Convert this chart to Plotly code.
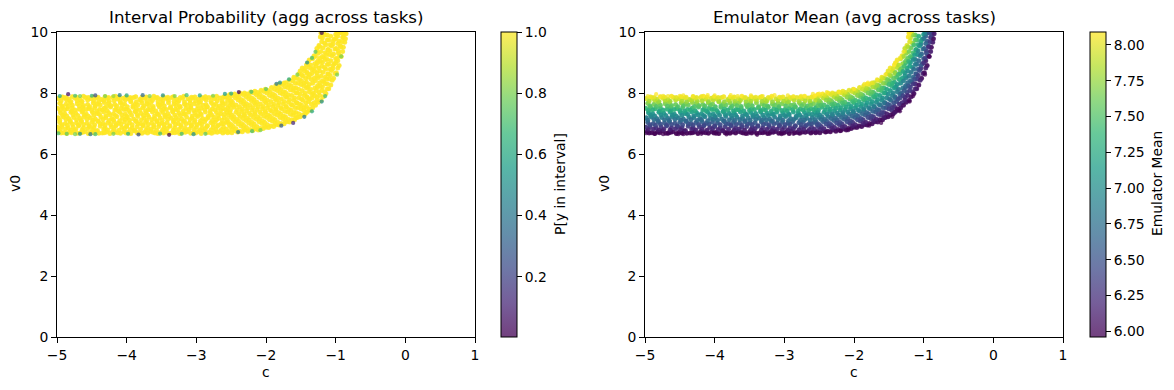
import plotly.graph_objects as go

W, H = 1174, 390
FONT = "DejaVu Sans"

c_core = [
-4.97,-4.90,-4.82,-4.75,-4.66,-4.60,-4.51,-4.44,-4.35,-4.29,-4.20,-4.13,-4.04,-3.98,-3.89,-3.82,-3.74,-3.66,-3.59,-3.50,-3.44,-3.35,-3.28,-3.20,-3.13,-3.04,-2.97,-2.90,-2.81,-2.74,-2.66,-2.59,
-4.99,-4.93,-4.84,-4.77,-4.69,-4.62,-4.53,-4.47,-4.38,-4.31,-4.22,-4.16,-4.07,-4.00,-3.92,-3.85,-3.76,-3.70,-3.61,-3.54,-3.46,-3.38,-3.31,-3.22,-3.16,-3.07,-3.00,-2.92,-2.85,-2.76,-2.70,-2.61,
-4.96,-4.88,-4.81,-4.72,-4.65,-4.57,-4.50,-4.41,-4.34,-4.27,-4.18,-4.12,-4.03,-3.96,-3.87,-3.80,-3.73,-3.64,-3.57,-3.49,-3.42,-3.33,-3.26,-3.19,-3.10,-3.03,-2.95,-2.88,-2.79,-2.73,-2.64,-2.57,
-4.98,-4.91,-4.83,-4.76,-4.67,-4.61,-4.52,-4.45,-4.37,-4.30,-4.21,-4.14,-4.06,-3.99,-3.90,-3.84,-3.75,-3.68,-3.60,-3.52,-3.45,-3.36,-3.29,-3.21,-3.14,-3.06,-2.98,-2.91,-2.83,-2.75,-2.68,-2.60,
-4.95,-4.89,-4.80,-4.73,-4.64,-4.58,-4.49,-4.42,-4.33,-4.26,-4.19,-4.10,-4.02,-3.95,-3.88,-3.79,-3.72,-3.63,-3.56,-3.48,-3.41,-3.34,-3.25,-3.18,-3.11,-3.02,-2.94,-2.87,-2.80,-2.71,-2.65,-2.56,
-4.99,-4.92,-4.85,-4.78,-4.68,-4.63,-4.54,-4.46,-4.39,-4.32,-4.23,-4.15,-4.08,-4.01,-3.91,-3.86,-3.77,-3.69,-3.62,-3.53,-3.47,-3.37,-3.30,-3.23,-3.15,-3.08,-2.99,-2.93,-2.84,-2.77,-2.69,-2.62,
-4.96,-4.87,-4.81,-4.71,-4.65,-4.56,-4.48,-4.42,-4.32,-4.26,-4.17,-4.09,-4.03,-3.94,-3.88,-3.78,-3.71,-3.65,-3.55,-3.49,-3.40,-3.32,-3.27,-3.17,-3.09,-3.03,-2.96,-2.86,-2.78,-2.72,-2.63,-2.58,
-4.98,-4.90,-4.83,-4.74,-4.67,-4.59,-4.51,-4.43,-4.36,-4.28,-4.20,-4.13,-4.05,-3.97,-3.90,-3.81,-3.74,-3.66,-3.58,-3.51,-3.43,-3.35,-3.28,-3.20,-3.12,-3.05,-2.97,-2.89,-2.82,-2.74,-2.66,-2.59,
-2.53,-2.51,-2.54,-2.50,-2.52,-2.55,-2.51,-2.53,-2.52,
-2.45,-2.47,-2.44,-2.46,-2.43,-2.46,-2.48,-2.44,-2.45,
-2.38,-2.36,-2.39,-2.37,-2.35,-2.38,-2.36,-2.39,-2.37,
-2.30,-2.32,-2.29,-2.31,-2.28,-2.30,-2.32,-2.29,-2.31,
-2.23,-2.21,-2.24,-2.22,-2.20,-2.23,-2.21,-2.24,-2.22,
-2.15,-2.17,-2.14,-2.16,-2.13,-2.15,-2.17,-2.14,-2.16,
-2.08,-2.06,-2.09,-2.07,-2.05,-2.08,-2.06,-2.09,-2.07,
-2.00,-2.02,-1.99,-2.01,-1.98,-2.00,-2.02,-1.99,-2.01,
-1.93,-1.91,-1.94,-1.92,-1.90,-1.93,-1.91,-1.94,-1.92,
-1.85,-1.87,-1.84,-1.86,-1.83,-1.85,-1.87,-1.84,-1.86,
-1.78,-1.76,-1.79,-1.77,-1.75,-1.78,-1.76,-1.79,-1.77,
-1.70,-1.72,-1.69,-1.71,-1.68,-1.70,-1.72,-1.69,-1.71,
-1.63,-1.61,-1.64,-1.62,-1.60,-1.63,-1.61,-1.64,-1.62,-1.60,
-1.55,-1.57,-1.54,-1.56,-1.53,-1.55,-1.57,-1.54,-1.56,-1.53,
-1.48,-1.46,-1.49,-1.47,-1.45,-1.48,-1.46,-1.49,-1.47,-1.45,-1.48,
-1.40,-1.42,-1.39,-1.41,-1.38,-1.40,-1.42,-1.39,-1.41,-1.38,-1.40,
-1.33,-1.31,-1.34,-1.32,-1.30,-1.33,-1.31,-1.34,-1.32,-1.30,-1.33,-1.31,
-1.25,-1.27,-1.24,-1.26,-1.23,-1.25,-1.27,-1.24,-1.26,-1.23,-1.25,-1.27,-1.24,
-1.18,-1.16,-1.19,-1.17,-1.15,-1.18,-1.16,-1.19,-1.17,-1.15,-1.18,-1.16,-1.19,-1.17,
-1.10,-1.12,-1.09,-1.11,-1.08,-1.10,-1.12,-1.09,-1.11,-1.08,-1.10,-1.12,
-1.03,-1.01,-1.04,-1.02,-1.00,-1.03,-1.01,-1.04,-1.02,-1.00,
-0.95,-0.97,-0.94,-0.96,-0.93,-0.95,-0.97,-0.94,
-0.89,-0.87,-0.90,-0.88,
]

v0_core = [
6.74,6.70,6.72,6.76,6.70,6.73,6.71,6.75,6.69,6.72,6.74,6.70,6.73,6.71,6.76,6.70,6.72,6.74,6.69,6.73,6.75,6.70,6.72,6.71,6.74,6.70,6.73,6.76,6.71,6.72,6.74,6.73,
6.88,6.90,6.85,6.89,6.92,6.86,6.90,6.87,6.91,6.85,6.89,6.92,6.87,6.90,6.86,6.89,6.92,6.85,6.88,6.90,6.87,6.91,6.86,6.89,6.85,6.92,6.88,6.86,6.90,6.87,6.91,6.88,
7.03,7.00,7.05,7.02,7.06,7.01,7.04,7.07,7.00,7.03,7.06,7.01,7.05,7.02,7.07,7.00,7.04,7.02,7.06,7.01,7.03,7.05,7.00,7.07,7.02,7.04,7.01,7.06,7.03,7.05,7.00,7.04,
7.19,7.21,7.16,7.20,7.17,7.22,7.18,7.15,7.21,7.19,7.16,7.22,7.17,7.20,7.15,7.23,7.18,7.21,7.16,7.19,7.22,7.17,7.20,7.15,7.21,7.18,7.23,7.16,7.19,7.21,7.17,7.20,
7.35,7.32,7.37,7.34,7.38,7.31,7.36,7.33,7.38,7.35,7.32,7.37,7.31,7.36,7.39,7.33,7.35,7.38,7.32,7.36,7.33,7.38,7.34,7.31,7.37,7.35,7.32,7.38,7.34,7.36,7.31,7.37,
7.50,7.53,7.48,7.51,7.47,7.53,7.49,7.52,7.46,7.51,7.54,7.48,7.50,7.47,7.53,7.49,7.52,7.46,7.50,7.54,7.48,7.51,7.47,7.53,7.49,7.52,7.46,7.50,7.54,7.48,7.51,7.49,
7.66,7.63,7.68,7.65,7.69,7.62,7.67,7.64,7.69,7.66,7.62,7.68,7.64,7.71,7.63,7.67,7.65,7.69,7.62,7.66,7.68,7.64,7.70,7.63,7.67,7.65,7.69,7.62,7.66,7.64,7.68,7.65,
7.82,7.84,7.80,7.83,7.79,7.85,7.81,7.84,7.79,7.82,7.85,7.80,7.83,7.81,7.85,7.79,7.83,7.81,7.84,7.80,7.82,7.85,7.79,7.83,7.81,7.84,7.80,7.82,7.85,7.81,7.84,7.86,
6.74,6.89,7.05,7.20,7.36,7.52,7.67,7.83,7.95,
6.76,6.90,7.06,7.22,7.37,7.53,7.69,7.84,7.97,
6.75,6.92,7.08,7.23,7.39,7.55,7.70,7.86,7.99,
6.79,6.94,7.10,7.26,7.42,7.57,7.73,7.88,8.00,
6.80,6.96,7.12,7.28,7.44,7.60,7.75,7.90,8.03,
6.82,6.98,7.14,7.30,7.46,7.62,7.78,7.94,8.06,
6.84,7.00,7.16,7.32,7.48,7.64,7.80,7.96,8.09,
6.88,7.04,7.20,7.36,7.52,7.68,7.84,8.00,8.12,
6.92,7.08,7.24,7.40,7.56,7.72,7.88,8.04,8.18,
6.96,7.12,7.28,7.44,7.60,7.76,7.92,8.08,8.24,
7.00,7.16,7.32,7.48,7.64,7.80,7.96,8.12,8.28,
7.06,7.22,7.38,7.54,7.70,7.86,8.02,8.18,8.34,
7.12,7.28,7.44,7.60,7.76,7.92,8.08,8.24,8.40,8.52,
7.20,7.36,7.52,7.68,7.84,8.00,8.16,8.32,8.48,8.62,
7.28,7.44,7.60,7.76,7.92,8.08,8.24,8.40,8.56,8.72,8.82,
7.40,7.56,7.72,7.88,8.04,8.20,8.36,8.52,8.68,8.84,8.98,
7.52,7.68,7.84,8.00,8.16,8.32,8.48,8.64,8.80,8.96,9.12,9.22,
7.70,7.86,8.02,8.18,8.34,8.50,8.66,8.82,8.98,9.14,9.30,9.46,9.56,
7.88,8.04,8.20,8.36,8.52,8.68,8.84,9.00,9.16,9.32,9.48,9.64,9.80,9.94,
8.14,8.30,8.46,8.62,8.78,8.94,9.10,9.26,9.42,9.58,9.74,9.90,
8.48,8.64,8.80,8.96,9.12,9.28,9.44,9.60,9.76,9.92,
8.90,9.06,9.22,9.38,9.54,9.70,9.86,9.98,
9.50,9.66,9.82,9.96,
]

mean_core = [
6.05,5.99,6.02,6.08,5.98,6.04,6.00,6.07,5.97,6.02,6.05,5.99,6.04,6.00,6.08,5.98,6.02,6.05,5.97,6.04,6.07,5.99,6.02,6.00,6.05,5.98,6.04,6.08,6.00,6.02,6.05,6.03,
6.30,6.33,6.24,6.31,6.36,6.26,6.33,6.28,6.35,6.24,6.31,6.36,6.28,6.33,6.26,6.31,6.36,6.24,6.30,6.33,6.28,6.35,6.26,6.31,6.24,6.36,6.30,6.26,6.33,6.28,6.35,6.30,
6.57,6.51,6.60,6.55,6.62,6.53,6.58,6.63,6.51,6.57,6.62,6.53,6.60,6.55,6.63,6.51,6.58,6.55,6.62,6.53,6.57,6.60,6.51,6.63,6.55,6.58,6.53,6.62,6.57,6.60,6.51,6.58,
6.85,6.88,6.79,6.86,6.81,6.90,6.83,6.77,6.88,6.85,6.79,6.90,6.81,6.86,6.77,6.91,6.83,6.88,6.79,6.85,6.90,6.81,6.86,6.77,6.88,6.83,6.91,6.79,6.85,6.88,6.81,6.86,
7.13,7.07,7.16,7.11,7.18,7.05,7.14,7.09,7.18,7.13,7.07,7.16,7.05,7.14,7.20,7.09,7.13,7.18,7.07,7.14,7.09,7.18,7.11,7.05,7.16,7.13,7.07,7.18,7.11,7.14,7.05,7.16,
7.40,7.46,7.37,7.42,7.35,7.46,7.39,7.44,7.33,7.42,7.48,7.37,7.40,7.35,7.46,7.39,7.44,7.33,7.40,7.48,7.37,7.42,7.35,7.46,7.39,7.44,7.33,7.40,7.48,7.37,7.42,7.39,
7.68,7.63,7.71,7.66,7.73,7.61,7.70,7.65,7.73,7.68,7.61,7.71,7.65,7.77,7.63,7.70,7.66,7.73,7.61,7.68,7.71,7.65,7.75,7.63,7.70,7.66,7.73,7.61,7.68,7.65,7.71,7.66,
7.96,7.99,7.92,7.98,7.90,8.01,7.94,7.99,7.90,7.96,8.01,7.92,7.98,7.94,8.01,7.90,7.98,7.94,7.99,7.92,7.96,8.01,7.90,7.98,7.94,7.99,7.92,7.96,8.01,7.94,7.99,8.03,
6.07,6.32,6.58,6.83,7.09,7.36,7.60,7.87,8.07,
6.08,6.31,6.58,6.84,7.09,7.35,7.62,7.87,8.08,
6.03,6.31,6.57,6.82,7.08,7.34,7.59,7.85,8.06,
6.08,6.32,6.58,6.84,7.10,7.34,7.60,7.84,8.04,
6.06,6.32,6.57,6.83,7.09,7.35,7.59,7.83,8.04,
6.06,6.32,6.57,6.83,7.08,7.34,7.60,7.85,8.04,
6.03,6.28,6.53,6.78,7.03,7.28,7.53,7.78,8.00,
6.05,6.30,6.56,6.81,7.06,7.32,7.57,7.82,8.01,
6.06,6.31,6.56,6.81,7.05,7.30,7.55,7.80,8.02,
6.06,6.30,6.55,6.79,7.03,7.28,7.52,7.76,8.01,
6.06,6.30,6.54,6.78,7.02,7.26,7.50,7.74,7.98,
6.06,6.30,6.53,6.77,7.01,7.24,7.48,7.72,7.95,
6.06,6.28,6.51,6.74,6.97,7.19,7.42,7.65,7.88,8.04,
6.06,6.28,6.50,6.72,6.94,7.16,7.38,7.60,7.82,8.01,
6.05,6.26,6.47,6.68,6.88,7.09,7.30,7.51,7.72,7.93,8.06,
6.06,6.26,6.47,6.67,6.87,7.07,7.27,7.47,7.68,7.88,8.05,
6.05,6.24,6.42,6.61,6.80,6.99,7.18,7.37,7.56,7.75,7.94,8.05,
6.05,6.22,6.39,6.56,6.72,6.89,7.06,7.23,7.40,7.56,7.73,7.90,8.00,
6.05,6.20,6.36,6.51,6.67,6.82,6.98,7.13,7.29,7.45,7.60,7.76,7.91,8.05,
6.05,6.19,6.32,6.46,6.60,6.73,6.87,7.00,7.14,7.28,7.41,7.55,
6.05,6.17,6.29,6.41,6.53,6.65,6.77,6.89,7.01,7.13,
6.03,6.13,6.23,6.33,6.43,6.53,6.63,6.70,
6.03,6.13,6.23,6.32,
]

p_core = [
1,1,1,1,1,1,1,1,1,1,1,1,1,1,1,1,1,1,1,1,1,1,1,1,1,1,1,1,1,1,1,1,
1,1,1,1,1,1,1,1,1,1,1,1,1,1,1,1,1,1,1,1,1,1,1,1,1,1,1,1,1,1,1,1,
1,1,1,1,1,1,1,1,1,1,1,1,1,1,1,1,1,1,1,1,1,1,1,1,1,1,1,1,1,1,1,1,
1,1,1,1,1,1,1,1,1,1,1,1,1,1,1,1,1,1,1,1,1,1,1,1,1,1,1,1,1,1,1,1,
1,1,1,1,1,1,1,1,1,1,1,1,1,1,1,1,1,1,1,1,1,1,1,1,1,1,1,1,1,1,1,1,
1,1,1,1,1,1,1,1,1,1,1,1,1,1,1,1,1,1,1,1,1,1,1,1,1,1,1,1,1,1,1,1,
1,1,1,1,1,1,1,1,1,1,1,1,1,1,1,1,1,1,1,1,1,1,1,1,1,1,1,1,1,1,1,1,
1,1,1,1,1,1,1,1,1,1,1,1,1,1,1,1,1,1,1,1,1,1,1,1,1,1,1,1,1,1,1,1,
1,1,1,1,1,1,1,1,1,1,1,1,1,1,1,1,1,1,1,1,1,1,1,1,1,1,1,1,1,1,1,1,1,1,1,1,1,1,1,1,
1,1,1,1,1,1,1,1,1,1,1,1,1,1,1,1,1,1,1,1,1,1,1,1,1,1,1,1,1,1,1,1,1,1,1,1,1,1,1,1,
1,1,1,1,1,1,1,1,1,1,1,1,1,1,1,1,1,1,1,1,1,1,1,1,1,1,1,1,1,1,1,1,1,1,1,1,1,1,1,1,
1,1,1,1,1,1,1,1,1,1,1,1,1,1,1,1,1,1,1,1,1,1,1,1,1,1,1,1,1,1,1,1,1,1,1,1,1,1,1,1,
1,1,1,1,1,1,1,1,1,1,1,1,1,1,1,1,1,1,1,1,1,1,1,1,1,1,1,1,1,1,1,1,1,1,1,1,1,1,1,1,
1,1,1,1,1,1,1,1,1,1,1,1,1,1,1,1,1,1,1,1,1,1,1,
]

c_fill = [
-4.94,-4.86,-4.79,-4.70,-4.63,-4.55,-4.47,-4.40,-4.32,-4.24,-4.17,-4.09,-4.01,-3.94,-3.85,-3.78,-3.70,-3.62,-3.55,-3.47,-3.40,-3.31,-3.24,-3.16,-3.08,-3.01,-2.93,-2.85,-2.78,-2.70,-2.62,-2.55,
-4.95,-4.88,-4.80,-4.73,-4.64,-4.56,-4.49,-4.42,-4.33,-4.27,-4.18,-4.11,-4.03,-3.95,-3.88,-3.80,-3.72,-3.65,-3.57,-3.48,-3.42,-3.33,-3.25,-3.18,-3.10,-3.03,-2.95,-2.87,-2.79,-2.72,-2.64,-2.57,
-4.93,-4.85,-4.78,-4.69,-4.62,-4.54,-4.46,-4.38,-4.31,-4.23,-4.15,-4.08,-4.00,-3.92,-3.84,-3.77,-3.69,-3.61,-3.53,-3.46,-3.38,-3.30,-3.22,-3.15,-3.07,-2.99,-2.92,-2.84,-2.76,-2.68,-2.61,-2.53,
-4.96,-4.87,-4.81,-4.72,-4.65,-4.57,-4.48,-4.41,-4.34,-4.25,-4.19,-4.10,-4.02,-3.96,-3.86,-3.79,-3.71,-3.64,-3.56,-3.49,-3.41,-3.32,-3.26,-3.17,-3.09,-3.02,-2.94,-2.86,-2.77,-2.71,-2.63,-2.56,
-4.92,-4.86,-4.77,-4.70,-4.61,-4.55,-4.47,-4.39,-4.30,-4.24,-4.16,-4.07,-4.00,-3.93,-3.85,-3.76,-3.70,-3.60,-3.54,-3.45,-3.39,-3.31,-3.23,-3.16,-3.06,-3.00,-2.93,-2.83,-2.78,-2.69,-2.60,-2.54,
-4.95,-4.89,-4.79,-4.74,-4.63,-4.58,-4.50,-4.43,-4.35,-4.28,-4.17,-4.12,-4.04,-3.97,-3.87,-3.81,-3.73,-3.66,-3.58,-3.50,-3.43,-3.34,-3.27,-3.19,-3.11,-3.04,-2.96,-2.88,-2.80,-2.73,-2.65,-2.58,
-4.93,-4.84,-4.78,-4.68,-4.62,-4.53,-4.45,-4.38,-4.29,-4.23,-4.14,-4.06,-3.99,-3.91,-3.84,-3.75,-3.68,-3.62,-3.52,-3.46,-3.37,-3.29,-3.24,-3.14,-3.08,-2.98,-2.91,-2.85,-2.75,-2.67,-2.62,-2.52,
-4.94,-4.86,-4.80,-4.71,-4.64,-4.56,-4.47,-4.40,-4.33,-4.25,-4.18,-4.09,-4.02,-3.94,-3.86,-3.79,-3.71,-3.63,-3.55,-3.48,-3.40,-3.32,-3.25,-3.17,-3.09,-3.01,-2.94,-2.86,-2.79,-2.70,-2.63,-2.55,
-4.92,-4.87,-4.78,-4.72,-4.62,-4.55,-4.48,-4.41,-4.31,-4.26,-4.16,-4.11,-4.01,-3.95,-3.87,-3.78,-3.72,-3.61,-3.56,-3.47,-3.41,-3.33,-3.23,-3.18,-3.07,-3.02,-2.92,-2.87,-2.77,-2.71,-2.61,-2.56,
-2.49,-2.48,-2.50,-2.47,-2.49,-2.51,-2.48,-2.50,-2.49,
-2.41,-2.43,-2.40,-2.42,-2.39,-2.41,-2.43,-2.40,-2.42,
-2.34,-2.32,-2.35,-2.33,-2.31,-2.34,-2.32,-2.35,-2.33,
-2.26,-2.28,-2.25,-2.27,-2.24,-2.26,-2.28,-2.25,-2.27,
-2.19,-2.17,-2.20,-2.18,-2.16,-2.19,-2.17,-2.20,-2.18,
-2.11,-2.13,-2.10,-2.12,-2.09,-2.11,-2.13,-2.10,-2.12,
-2.04,-2.02,-2.05,-2.03,-2.01,-2.04,-2.02,-2.05,-2.03,
-1.96,-1.98,-1.95,-1.97,-1.94,-1.96,-1.98,-1.95,-1.97,
-1.89,-1.87,-1.90,-1.88,-1.86,-1.89,-1.87,-1.90,-1.88,
-1.81,-1.83,-1.80,-1.82,-1.79,-1.81,-1.83,-1.80,-1.82,-1.81,
-1.74,-1.72,-1.75,-1.73,-1.71,-1.74,-1.72,-1.75,-1.73,-1.74,
-1.66,-1.68,-1.65,-1.67,-1.64,-1.66,-1.68,-1.65,-1.67,-1.66,
-1.59,-1.57,-1.60,-1.58,-1.56,-1.59,-1.57,-1.60,-1.58,-1.59,
-1.51,-1.53,-1.50,-1.52,-1.49,-1.51,-1.53,-1.50,-1.52,-1.49,-1.51,
-1.44,-1.42,-1.45,-1.43,-1.41,-1.44,-1.42,-1.45,-1.43,-1.41,-1.44,-1.42,
-1.36,-1.38,-1.35,-1.37,-1.34,-1.36,-1.38,-1.35,-1.37,-1.34,-1.36,-1.38,
-1.29,-1.27,-1.30,-1.28,-1.26,-1.29,-1.27,-1.30,-1.28,-1.26,-1.29,-1.27,
-1.21,-1.23,-1.20,-1.22,-1.19,-1.21,-1.23,-1.20,-1.22,-1.19,-1.21,-1.23,-1.20,-1.22,-1.21,
-1.14,-1.12,-1.15,-1.13,-1.11,-1.14,-1.12,-1.15,-1.13,-1.11,-1.14,-1.12,-1.15,
-1.07,-1.05,-1.08,-1.06,-1.04,-1.07,-1.05,-1.08,-1.06,-1.04,-1.07,
-0.99,-0.97,-1.00,-0.98,-0.96,-0.99,-0.97,-1.00,-0.98,
-0.92,-0.90,-0.93,-0.91,-0.89,-0.92,
-0.86,-0.85,
]

v0_fill = [
6.69,6.67,6.70,6.68,6.71,6.67,6.69,6.68,6.70,6.67,6.71,6.68,6.69,6.67,6.70,6.68,6.69,6.71,6.67,6.69,6.68,6.70,6.67,6.71,6.68,6.69,6.67,6.70,6.68,6.71,6.69,6.70,
6.80,6.82,6.78,6.81,6.79,6.83,6.80,6.77,6.82,6.79,6.81,6.78,6.83,6.80,6.77,6.81,6.79,6.82,6.78,6.80,6.83,6.79,6.81,6.77,6.82,6.80,6.78,6.83,6.79,6.81,6.80,6.82,
6.96,6.94,6.98,6.95,6.97,6.93,6.96,6.99,6.94,6.97,6.95,6.98,6.93,6.96,6.99,6.95,6.97,6.94,6.98,6.96,6.93,6.97,6.95,6.99,6.94,6.96,6.98,6.93,6.97,6.95,6.99,6.96,
7.11,7.13,7.09,7.12,7.10,7.14,7.11,7.08,7.13,7.10,7.12,7.09,7.14,7.11,7.08,7.12,7.10,7.13,7.09,7.11,7.14,7.10,7.12,7.08,7.13,7.11,7.09,7.14,7.10,7.12,7.11,7.13,
7.27,7.25,7.29,7.26,7.28,7.24,7.27,7.30,7.25,7.28,7.26,7.29,7.24,7.27,7.30,7.26,7.28,7.25,7.29,7.27,7.24,7.28,7.26,7.30,7.25,7.27,7.29,7.24,7.28,7.26,7.30,7.27,
7.43,7.45,7.41,7.44,7.42,7.46,7.43,7.40,7.45,7.42,7.44,7.41,7.46,7.43,7.40,7.44,7.42,7.45,7.41,7.43,7.46,7.42,7.44,7.40,7.45,7.43,7.41,7.46,7.42,7.44,7.43,7.45,
7.58,7.56,7.60,7.57,7.59,7.55,7.58,7.61,7.56,7.59,7.57,7.60,7.55,7.58,7.61,7.57,7.59,7.56,7.60,7.58,7.55,7.59,7.57,7.61,7.56,7.58,7.60,7.55,7.59,7.57,7.61,7.58,
7.74,7.76,7.72,7.75,7.73,7.77,7.74,7.71,7.76,7.73,7.75,7.72,7.77,7.74,7.71,7.75,7.73,7.76,7.72,7.74,7.77,7.73,7.75,7.71,7.76,7.74,7.72,7.77,7.73,7.75,7.74,7.76,
7.87,7.85,7.88,7.86,7.89,7.85,7.87,7.86,7.88,7.85,7.89,7.86,7.87,7.85,7.88,7.86,7.87,7.89,7.85,7.87,7.86,7.88,7.85,7.89,7.86,7.87,7.85,7.88,7.86,7.89,7.87,7.90,
6.70,6.81,6.97,7.13,7.28,7.44,7.60,7.75,7.91,
6.72,6.83,6.98,7.14,7.30,7.45,7.61,7.77,7.92,
6.73,6.84,7.00,7.16,7.31,7.47,7.63,7.78,7.95,
6.75,6.87,7.02,7.18,7.34,7.50,7.65,7.81,7.97,
6.77,6.88,7.04,7.20,7.36,7.52,7.68,7.83,8.00,
6.79,6.90,7.06,7.22,7.38,7.54,7.70,7.86,8.02,
6.84,6.92,7.08,7.24,7.40,7.56,7.72,7.88,8.05,
6.87,6.96,7.12,7.28,7.44,7.60,7.76,7.92,8.08,
6.90,7.00,7.16,7.32,7.48,7.64,7.80,7.96,8.12,
6.95,7.04,7.20,7.36,7.52,7.68,7.84,8.00,8.16,8.29,
6.99,7.08,7.24,7.40,7.56,7.72,7.88,8.04,8.20,8.33,
7.05,7.14,7.30,7.46,7.62,7.78,7.94,8.10,8.26,8.42,
7.12,7.20,7.36,7.52,7.68,7.84,8.00,8.16,8.32,8.48,
7.22,7.32,7.48,7.64,7.80,7.96,8.12,8.28,8.44,8.60,8.72,
7.31,7.36,7.52,7.68,7.84,8.00,8.16,8.32,8.48,8.64,8.80,8.92,
7.44,7.48,7.64,7.80,7.96,8.12,8.28,8.44,8.60,8.76,8.92,9.08,
7.60,7.76,7.92,8.08,8.24,8.40,8.56,8.72,8.88,9.04,9.20,9.36,
7.76,7.92,8.08,8.24,8.40,8.56,8.72,8.88,9.04,9.20,9.36,9.52,9.68,9.84,9.96,
7.98,8.14,8.30,8.46,8.62,8.78,8.94,9.10,9.26,9.42,9.58,9.74,9.90,
8.26,8.42,8.58,8.74,8.90,9.06,9.22,9.38,9.54,9.70,9.86,
8.66,8.82,8.98,9.14,9.30,9.46,9.62,9.78,9.94,
9.20,9.36,9.52,9.68,9.84,9.97,
9.78,9.94,
]

mean_fill = [
5.98,5.96,5.99,5.97,6.01,5.96,5.98,5.97,5.99,5.96,6.01,5.97,5.98,5.96,5.99,5.97,5.98,6.01,5.96,5.98,5.97,5.99,5.96,6.01,5.97,5.98,5.96,5.99,5.97,6.01,5.98,5.99,
6.17,6.20,6.13,6.18,6.15,6.22,6.17,6.12,6.20,6.15,6.18,6.13,6.22,6.17,6.12,6.18,6.15,6.20,6.13,6.17,6.22,6.15,6.18,6.12,6.20,6.17,6.13,6.22,6.15,6.18,6.17,6.20,
6.44,6.41,6.48,6.43,6.46,6.39,6.44,6.50,6.41,6.46,6.43,6.48,6.39,6.44,6.50,6.43,6.46,6.41,6.48,6.44,6.39,6.46,6.43,6.50,6.41,6.44,6.48,6.39,6.46,6.43,6.50,6.44,
6.71,6.74,6.67,6.72,6.69,6.76,6.71,6.65,6.74,6.69,6.72,6.67,6.76,6.71,6.65,6.72,6.69,6.74,6.67,6.71,6.76,6.69,6.72,6.65,6.74,6.71,6.67,6.76,6.69,6.72,6.71,6.74,
6.99,6.95,7.02,6.97,7.00,6.93,6.99,7.04,6.95,7.00,6.97,7.02,6.93,6.99,7.04,6.97,7.00,6.95,7.02,6.99,6.93,7.00,6.97,7.04,6.95,6.99,7.02,6.93,7.00,6.97,7.04,6.99,
7.27,7.30,7.23,7.28,7.25,7.32,7.27,7.21,7.30,7.25,7.28,7.23,7.32,7.27,7.21,7.28,7.25,7.30,7.23,7.27,7.32,7.25,7.28,7.21,7.30,7.27,7.23,7.32,7.25,7.28,7.27,7.30,
7.53,7.50,7.57,7.51,7.55,7.48,7.53,7.59,7.50,7.55,7.51,7.57,7.48,7.53,7.59,7.51,7.55,7.50,7.57,7.53,7.48,7.55,7.51,7.59,7.50,7.53,7.57,7.48,7.55,7.51,7.59,7.53,
7.82,7.85,7.78,7.83,7.80,7.87,7.82,7.76,7.85,7.80,7.83,7.78,7.87,7.82,7.76,7.83,7.80,7.85,7.78,7.82,7.87,7.80,7.83,7.76,7.85,7.82,7.78,7.87,7.80,7.83,7.82,7.85,
8.04,8.01,8.06,8.03,8.08,8.01,8.04,8.03,8.06,8.01,8.08,8.03,8.04,8.01,8.06,8.03,8.04,8.08,8.01,8.04,8.03,8.06,8.01,8.08,8.03,8.04,8.01,8.06,8.03,8.08,8.04,8.09,
6.00,6.20,6.45,6.71,6.96,7.22,7.48,7.74,8.00,
6.00,6.20,6.45,6.70,6.96,7.21,7.47,7.73,7.98,
5.99,6.17,6.43,6.69,6.94,7.20,7.46,7.71,7.99,
6.00,6.20,6.44,6.70,6.96,7.22,7.46,7.72,7.98,
6.00,6.18,6.44,6.70,6.95,7.21,7.47,7.71,7.99,
6.00,6.18,6.44,6.70,6.95,7.21,7.47,7.72,7.98,
6.02,6.15,6.41,6.66,6.91,7.16,7.42,7.67,7.94,
6.03,6.17,6.42,6.67,6.93,7.18,7.44,7.69,7.94,
6.03,6.18,6.43,6.68,6.93,7.18,7.43,7.67,7.92,
6.03,6.16,6.41,6.65,6.89,7.13,7.38,7.62,7.86,8.05,
6.03,6.15,6.39,6.63,6.87,7.11,7.35,7.58,7.82,8.02,
6.03,6.16,6.39,6.62,6.85,7.08,7.31,7.54,7.77,8.00,
6.02,6.13,6.36,6.58,6.81,7.03,7.26,7.49,7.71,7.94,
6.02,6.14,6.36,6.57,6.78,7.00,7.21,7.42,7.63,7.85,8.01,
6.02,6.09,6.30,6.51,6.72,6.93,7.14,7.35,7.56,7.77,7.98,8.08,
6.02,6.05,6.25,6.45,6.65,6.85,7.05,7.25,7.45,7.65,7.85,8.05,
6.03,6.20,6.38,6.55,6.73,6.90,7.08,7.25,7.43,7.60,7.78,7.95,
6.03,6.19,6.35,6.52,6.68,6.84,7.00,7.17,7.33,7.49,7.65,7.81,7.98,8.07,8.08,
6.03,6.17,6.31,6.45,6.59,6.73,6.87,7.01,7.15,7.29,7.43,7.57,7.71,
6.04,6.17,6.30,6.43,6.56,6.69,6.82,6.94,7.07,7.20,7.33,
6.03,6.14,6.25,6.36,6.47,6.58,6.69,6.80,6.91,
6.03,6.13,6.22,6.32,6.41,6.49,
6.03,6.12,
]

p_fill = [
1,1,1,1,1,1,1,1,1,1,1,1,1,1,1,1,1,1,1,1,1,1,1,1,1,1,1,1,1,1,1,1,
1,1,1,1,1,1,1,1,1,1,1,1,1,1,1,1,1,1,1,1,1,1,1,1,1,1,1,1,1,1,1,1,
1,1,1,1,1,1,1,1,1,1,1,1,1,1,1,1,1,1,1,1,1,1,1,1,1,1,1,1,1,1,1,1,
1,1,1,1,1,1,1,1,1,1,1,1,1,1,1,1,1,1,1,1,1,1,1,1,1,1,1,1,1,1,1,1,
1,1,1,1,1,1,1,1,1,1,1,1,1,1,1,1,1,1,1,1,1,1,1,1,1,1,1,1,1,1,1,1,
1,1,1,1,1,1,1,1,1,1,1,1,1,1,1,1,1,1,1,1,1,1,1,1,1,1,1,1,1,1,1,1,
1,1,1,1,1,1,1,1,1,1,1,1,1,1,1,1,1,1,1,1,1,1,1,1,1,1,1,1,1,1,1,1,
1,1,1,1,1,1,1,1,1,1,1,1,1,1,1,1,1,1,1,1,1,1,1,1,1,1,1,1,1,1,1,1,
1,1,1,1,1,1,1,1,1,1,1,1,1,1,1,1,1,1,1,1,1,1,1,1,1,1,1,1,1,1,1,1,
1,1,1,1,1,1,1,1,1,1,1,1,1,1,1,1,1,1,1,1,1,1,1,1,1,1,1,1,1,1,1,1,1,1,1,1,1,1,1,1,
1,1,1,1,1,1,1,1,1,1,1,1,1,1,1,1,1,1,1,1,1,1,1,1,1,1,1,1,1,1,1,1,1,1,1,1,1,1,1,1,
1,1,1,1,1,1,1,1,1,1,1,1,1,1,1,1,1,1,1,1,1,1,1,1,1,1,1,1,1,1,1,1,1,1,1,1,1,1,1,1,
1,1,1,1,1,1,1,1,1,1,1,1,1,1,1,1,1,1,1,1,1,1,1,1,1,1,1,1,1,1,1,1,1,1,1,1,1,1,1,1,
1,1,1,1,1,1,1,1,1,1,1,1,1,1,1,1,1,1,1,1,1,1,1,1,1,1,1,1,1,1,1,1,1,1,1,1,1,1,1,1,
1,1,1,1,1,1,1,1,1,1,1,1,1,1,1,1,1,1,1,1,1,1,1,1,
]

c_edge = [-4.96,-4.84,-4.74,-4.67,-4.50,-4.45,-4.31,-4.19,-4.10,-4.00,-3.77,-3.67,-3.48,-3.31,-3.14,-2.95,-2.76,-2.59,-2.50,-2.39,-2.21,-2.00,-1.85,-1.80,-1.67,-1.55,-1.41,-1.34,-1.29,-1.20,
          -4.98,-4.86,-4.74,-4.67,-4.52,-4.45,-4.19,-3.98,-3.83,-3.52,-3.39,-3.21,-3.04,-2.87,-2.40,-2.20,-2.08,-1.78,-1.61,-1.45,-1.34,-1.20,-1.15,-0.98,-0.92]
v0_edge = [7.90,7.96,7.91,7.90,7.91,7.92,7.90,7.90,7.93,7.92,7.93,7.90,7.92,7.90,7.93,7.92,7.91,7.97,7.98,8.03,8.04,8.13,8.30,8.34,8.45,8.60,9.00,9.15,9.35,9.97,
           6.68,6.66,6.65,6.66,6.65,6.65,6.66,6.66,6.64,6.67,6.63,6.66,6.65,6.66,6.72,6.75,6.78,6.93,7.02,7.22,7.40,7.72,7.90,8.60,9.20]
p_edge = [0.60,0.05,0.70,0.80,0.65,0.25,0.80,0.85,0.45,0.60,0.35,0.80,0.50,0.80,0.70,0.60,0.80,0.55,0.60,0.02,0.70,0.75,0.40,0.50,0.60,0.80,0.50,0.70,0.75,0.05,
          0.70,0.75,0.80,0.50,0.40,0.70,0.80,0.65,0.25,0.70,0.03,0.70,0.50,0.75,0.40,0.70,0.80,0.30,0.12,0.40,0.60,0.50,0.70,0.80,0.80]
mean_edge = [8.05,8.09,8.06,8.05,8.06,8.07,8.05,8.05,8.08,8.07,8.08,8.05,8.07,8.05,8.08,8.07,8.06,8.08,8.09,8.07,8.08,8.09,8.07,8.08,8.06,8.07,8.08,8.06,8.05,8.07,
             5.99,5.97,5.96,5.97,5.96,5.96,5.97,5.97,5.96,5.98,5.96,5.97,5.96,5.97,5.98,5.97,5.98,5.97,5.96,5.97,5.98,5.97,5.98,5.98,5.99]

x_ticks = [-5, -4, -3, -2, -1, 0, 1]
y_ticks = [0, 2, 4, 6, 8, 10]
p_ticks = [0.2, 0.4, 0.6, 0.8, 1.0]
mean_ticks = [6.00, 6.25, 6.50, 6.75, 7.00, 7.25, 7.50, 7.75, 8.00]

assert len(c_core) == len(v0_core) == len(mean_core) == len(p_core), (
    len(c_core), len(v0_core), len(mean_core), len(p_core))
assert len(c_fill) == len(v0_fill) == len(mean_fill) == len(p_fill), (
    len(c_fill), len(v0_fill), len(mean_fill), len(p_fill))

ALPHA = 0.75
viridis = ["68,1,84", "72,40,120", "62,74,137", "49,104,142", "38,130,142",
           "31,158,137", "53,183,121", "109,205,89", "180,222,44", "253,231,37"]
scale = [[i / 9, f"rgba({v},{ALPHA})"] for i, v in enumerate(viridis)]

tick_font = dict(family=FONT, size=13.9, color="black")

# Plot-area box, in page pixels; everything is placed relative to it.
LEFT, RIGHT, TOP, BOTTOM = 57, 1063, 32, 337
PW, PH = RIGHT - LEFT, BOTTOM - TOP


def fx(px):
    return (px - LEFT) / PW


def fy(py):
    return (BOTTOM - py) / PH


def colorbar(left, ticks, fmt):
    return dict(
        thickness=16, thicknessmode="pixels", lenmode="fraction",
        len=1, y=0, yanchor="bottom", yref="paper",
        x=fx(left), xanchor="left", xref="paper", xpad=0, ypad=0,
        tickmode="array", tickvals=ticks, tickformat=fmt, ticks="outside",
        ticklen=5, tickwidth=1, tickcolor="black", tickfont=tick_font,
        outlinecolor="black", outlinewidth=1, borderwidth=0,
    )


inner_c = c_core + c_fill
inner_v0 = v0_core + v0_fill
SIZE_UNDER, SIZE_TOP = 5.0, 4.2

fig = go.Figure()
panels = [
    ("x", "y", p_core + p_fill, p_edge, 0.003, 1.0, colorbar(501, p_ticks, ".1f")),
    ("x2", "y2", mean_core + mean_fill, mean_edge, 5.96, 8.09, colorbar(1090, mean_ticks, ".2f")),
]
for xa, ya, col_inner, col_edge, lo, hi, cb in panels:
    # Inner points drawn first, overlapped again by the full set, as the dense original overplots.
    fig.add_trace(go.Scatter(
        x=inner_c, y=inner_v0, xaxis=xa, yaxis=ya, mode="markers",
        marker=dict(size=SIZE_UNDER, color=col_inner, cmin=lo, cmax=hi, colorscale=scale,
                    showscale=False, line=dict(width=0)),
        showlegend=False, hoverinfo="skip",
    ))
    fig.add_trace(go.Scatter(
        x=inner_c + c_edge, y=inner_v0 + v0_edge, xaxis=xa, yaxis=ya, mode="markers",
        marker=dict(size=SIZE_TOP, color=col_inner + col_edge,
                    cmin=lo, cmax=hi, colorscale=scale, colorbar=cb, line=dict(width=0)),
        showlegend=False, hoverinfo="skip",
    ))


def x_axis(left, right, anchor):
    return dict(domain=[fx(left), fx(right)], anchor=anchor, range=[-5, 1], automargin=False,
                tickmode="array", tickvals=x_ticks, ticks="outside", ticklen=5, tickwidth=1,
                tickcolor="black", tickfont=tick_font, showgrid=False, zeroline=False,
                showline=True, mirror=True, linecolor="black", linewidth=1)


def y_axis(anchor):
    return dict(domain=[0, 1], anchor=anchor, range=[0, 10], automargin=False,
                tickmode="array", tickvals=y_ticks, ticks="outside", ticklen=5, tickwidth=1,
                tickcolor="black", tickfont=tick_font, showgrid=False, zeroline=False,
                showline=True, mirror=True, linecolor="black", linewidth=1)


def label(text, x, y, size, angle=0):
    return dict(text=text, x=fx(x), y=fy(y), xref="paper", yref="paper", showarrow=False,
                xanchor="center", yanchor="middle", textangle=angle,
                font=dict(family=FONT, size=size, color="black"))


fig.update_layout(
    width=W, height=H, autosize=False,
    margin=dict(l=LEFT, r=W - RIGHT, t=TOP, b=H - BOTTOM, pad=0),
    paper_bgcolor="white", plot_bgcolor="white", font=dict(family=FONT),
    xaxis=x_axis(57, 475, "y"), yaxis=y_axis("x"),
    xaxis2=x_axis(645, 1063, "y2"), yaxis2=y_axis("x2"),
    annotations=[
        label("Interval Probability (agg across tasks)", 266, 18, 16.67),
        label("Emulator Mean (avg across tasks)", 854, 18, 16.67),
        label("c", 266, 372, 13.9),
        label("c", 854, 372, 13.9),
        label("v0", 15, 184, 13.9, -90),
        label("v0", 604, 184, 13.9, -90),
        label("P[y in interval]", 560, 184, 13.9, -90),
        label("Emulator Mean", 1157, 184, 13.9, -90),
    ],
)

fig.write_html("out.html", config={"displayModeBar": False},
               post_script="document.body.style.margin='0';document.body.style.overflow='hidden';")
